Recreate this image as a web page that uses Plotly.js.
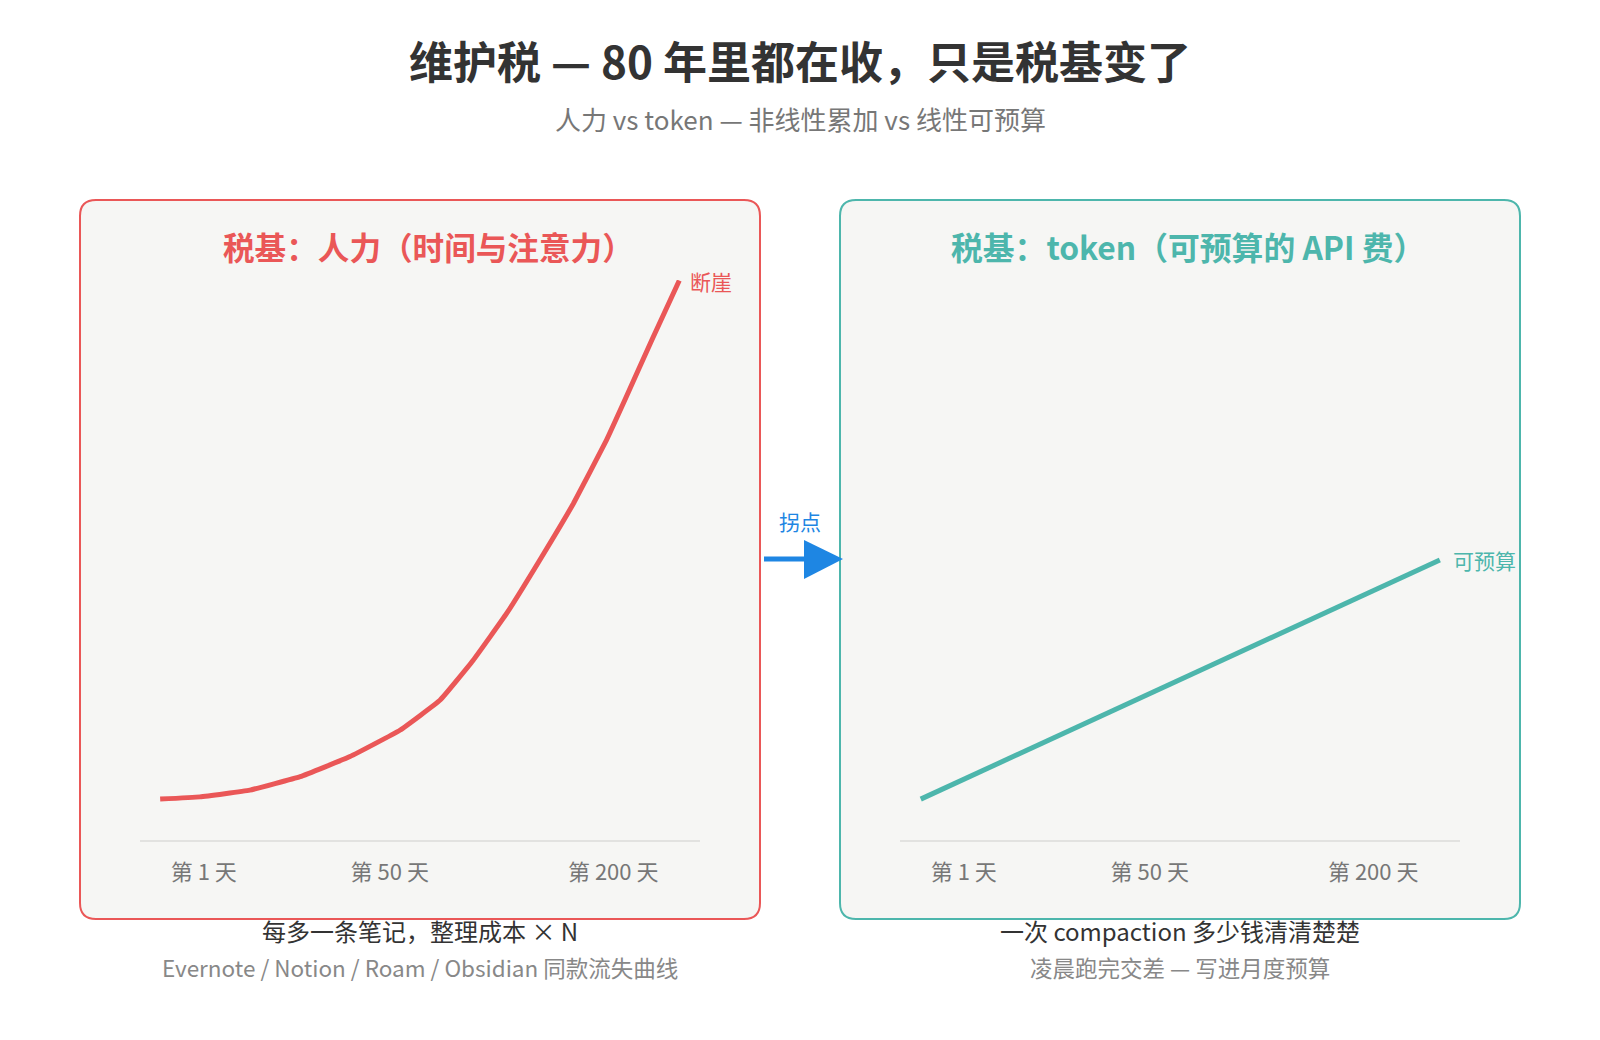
<!DOCTYPE html>
<html>
<head>
<meta charset="utf-8">
<script src="https://cdn.plot.ly/plotly-3.0.1.min.js"></script>
<style>
  html, body { margin: 0; padding: 0; background: #ffffff; }
  #chart { width: 1600px; height: 1040px; }
</style>
</head>
<body>
<div id="chart"></div>
<script>
// tick labels and where they sit on the time axis (0-100)
var dayLabels = ['第 1 天', '第 50 天', '第 200 天'];
var dayPos = [11.4, 44.6, 84.5];

// human effort: non-linear, cliff at the end
var humanX = [3.6, 10.7, 19.6, 28.6, 37.5, 46.4, 53.6, 59.5, 65.5, 71.4, 77.4, 83.3, 86.6, 91.4, 96.3];
var humanY = [7.3, 7.7, 8.9, 11.3, 14.9, 19.6, 25.0, 32.1, 40.5, 50.0, 60.1, 71.4, 78.6, 89.3, 99.9];

// token cost: linear, budgetable
var tokenX = [3.7, 96.4];
var tokenY = [7.3, 50.0];

var RED = '#ea5757';
var TEAL = '#4db6ac';
var BLUE = '#1e86e3';
var FONT = '"Noto Sans CJK SC", "Noto Sans", sans-serif';

var W = 1600, H = 1040;
function px(x) { return x / W; }
function py(y) { return 1 - y / H; }

function roundRect(x0, y0, x1, y1, r) {
  function p(x, y) { return px(x).toFixed(5) + ',' + py(y).toFixed(5); }
  return 'M' + p(x0 + r, y0) +
    ' L' + p(x1 - r, y0) + ' Q' + p(x1, y0) + ' ' + p(x1, y0 + r) +
    ' L' + p(x1, y1 - r) + ' Q' + p(x1, y1) + ' ' + p(x1 - r, y1) +
    ' L' + p(x0 + r, y1) + ' Q' + p(x0, y1) + ' ' + p(x0, y1 - r) +
    ' L' + p(x0, y0 + r) + ' Q' + p(x0, y0) + ' ' + p(x0 + r, y0) + ' Z';
}

var traces = [
  {
    x: humanX, y: humanY, xaxis: 'x', yaxis: 'y',
    type: 'scatter', mode: 'lines',
    line: { color: RED, width: 5, shape: 'spline', smoothing: 0.3 },
    hoverinfo: 'skip'
  },
  {
    x: tokenX, y: tokenY, xaxis: 'x2', yaxis: 'y2',
    type: 'scatter', mode: 'lines',
    line: { color: TEAL, width: 5 },
    hoverinfo: 'skip'
  }
];

function xAxis(domain) {
  return {
    domain: domain, range: [0, 100], fixedrange: true,
    showgrid: false, zeroline: false,
    showline: true, linecolor: '#e2e2e0', linewidth: 2,
    ticks: '', tickmode: 'array', tickvals: dayPos, ticktext: dayLabels,
    ticklabelstandoff: 12,
    tickfont: { family: FONT, size: 22, color: '#777777' }
  };
}
function yAxis(anchor) {
  return {
    domain: [py(840), py(280)], range: [0, 100], anchor: anchor, fixedrange: true,
    showgrid: false, zeroline: false, showline: false, showticklabels: false
  };
}

function note(text, x, y, size, color, weight) {
  return {
    text: text, xref: 'paper', yref: 'paper', x: px(x), y: py(y),
    xanchor: 'center', yanchor: 'middle', showarrow: false,
    font: { family: FONT, size: size, color: color, weight: weight || 'normal' }
  };
}

var layout = {
  width: W, height: H,
  margin: { l: 0, r: 0, t: 0, b: 0 },
  paper_bgcolor: '#ffffff', plot_bgcolor: 'rgba(0,0,0,0)',
  showlegend: false, hovermode: false,
  title: {
    text: '维护税 — 80 年里都在收，只是税基变了',
    x: 0.5, xanchor: 'center', y: py(64), yanchor: 'middle',
    font: { family: FONT, size: 44, color: '#333333', weight: 'bold' }
  },
  xaxis: xAxis([px(140), px(700)]),
  yaxis: yAxis('x'),
  xaxis2: xAxis([px(900), px(1460)]),
  yaxis2: yAxis('x2'),
  shapes: [
    { type: 'path', xref: 'paper', yref: 'paper', layer: 'below',
      path: roundRect(80, 200, 760, 919, 16),
      fillcolor: '#f6f6f4', line: { color: RED, width: 2 } },
    { type: 'path', xref: 'paper', yref: 'paper', layer: 'below',
      path: roundRect(840, 200, 1520, 919, 16),
      fillcolor: '#f6f6f4', line: { color: TEAL, width: 2 } },
    // transition arrow between the panels
    { type: 'line', xref: 'paper', yref: 'paper',
      x0: px(764), y0: py(559), x1: px(808), y1: py(559),
      line: { color: BLUE, width: 5 } },
    { type: 'path', xref: 'paper', yref: 'paper',
      path: 'M' + px(804) + ',' + py(540) + ' L' + px(843) + ',' + py(559) +
            ' L' + px(804) + ',' + py(579) + ' Z',
      fillcolor: BLUE, line: { color: BLUE, width: 0 } }
  ],
  annotations: [
    note('人力 vs token — 非线性累加 vs 线性可预算', 800, 118, 26, '#777777'),
    note('税基：人力（时间与注意力）', 428, 246, 31.6, RED, 'bold'),
    note('税基：token（可预算的 API 费）', 1188, 246, 31.8, TEAL, 'bold'),
    note('拐点', 800, 521, 21, BLUE),
    note('每多一条笔记，整理成本 × N', 420, 930, 24, '#333333'),
    note('Evernote / Notion / Roam / Obsidian 同款流失曲线', 420, 967, 22.5, '#888888'),
    note('一次 compaction 多少钱清清楚楚', 1180, 930, 24, '#333333'),
    note('凌晨跑完交差 — 写进月度预算', 1180, 967, 22.5, '#888888'),
    {
      text: '断崖', xref: 'x', yref: 'y',
      x: humanX[humanX.length - 1], y: humanY[humanY.length - 1],
      xanchor: 'left', yanchor: 'middle', xshift: 9, showarrow: false,
      font: { family: FONT, size: 21, color: RED }
    },
    {
      text: '可预算', xref: 'x2', yref: 'y2',
      x: tokenX[tokenX.length - 1], y: tokenY[tokenY.length - 1],
      xanchor: 'left', yanchor: 'middle', xshift: 11, showarrow: false,
      font: { family: FONT, size: 21, color: TEAL }
    }
  ]
};

Plotly.newPlot('chart', traces, layout, { displayModeBar: false, staticPlot: true });
</script>
</body>
</html>
